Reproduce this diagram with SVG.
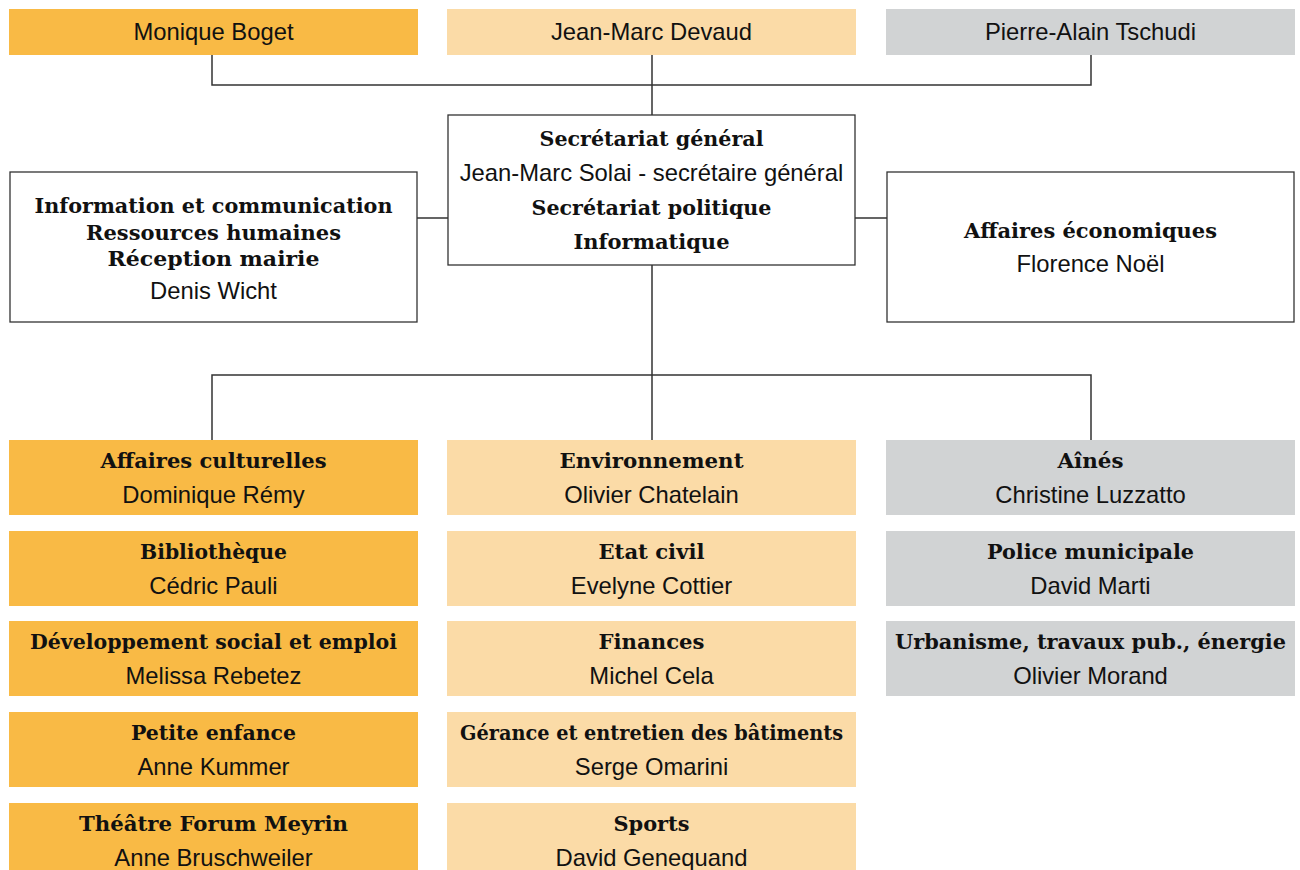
<svg xmlns="http://www.w3.org/2000/svg" width="1300" height="870" viewBox="0 0 1300 870">
<style>
.o{fill:#F9BA45}
.p{fill:#FBDBA7}
.g{fill:#D1D3D4}
.w{fill:#fff;stroke:#333;stroke-width:1.3}
.b{font-family:"DejaVu Serif",serif;font-weight:bold;font-size:20.5px;fill:#111;text-anchor:middle}
.n{font-family:"Liberation Sans",Arial,sans-serif;font-size:23.8px;fill:#111;text-anchor:middle}
.c{fill:none;stroke:#333;stroke-width:1.5}
</style>
<rect width="1300" height="870" fill="#fff"/>
<g id="connectors" class="c">
<path d="M212 55V85H1091V55M652 55V115"/>
<path d="M417 218H448M855 218H887"/>
<path d="M652 265V375M212 440V375H1091V440M652 375V440"/>
</g>
<g id="monique-boget"><rect class="o" x="9" y="9" width="409" height="46"/><text class="n" x="213.5" y="40">Monique Boget</text></g>
<g id="jean-marc-devaud"><rect class="p" x="447" y="9" width="409" height="46"/><text class="n" x="651.5" y="40">Jean-Marc Devaud</text></g>
<g id="pierre-alain-tschudi"><rect class="g" x="886" y="9" width="409" height="46"/><text class="n" x="1090.5" y="40">Pierre-Alain Tschudi</text></g>
<g id="secretariat"><rect class="w" x="448" y="115" width="407" height="150"/>
<text class="b" x="651.5" y="146" textLength="224" lengthAdjust="spacingAndGlyphs">Secrétariat général</text>
<text class="n" x="651.5" y="181">Jean-Marc Solai - secrétaire général</text>
<text class="b" x="651.5" y="215" textLength="240" lengthAdjust="spacingAndGlyphs">Secrétariat politique</text>
<text class="b" x="651.5" y="249" textLength="156" lengthAdjust="spacingAndGlyphs">Informatique</text></g>
<g id="information"><rect class="w" x="10" y="172" width="407" height="150"/>
<text class="b" x="213.5" y="213" textLength="358" lengthAdjust="spacingAndGlyphs">Information et communication</text>
<text class="b" x="213.5" y="240" textLength="255" lengthAdjust="spacingAndGlyphs">Ressources humaines</text>
<text class="b" x="213.5" y="266" textLength="212" lengthAdjust="spacingAndGlyphs">Réception mairie</text>
<text class="n" x="213.5" y="299">Denis Wicht</text></g>
<g id="affaires-economiques"><rect class="w" x="887" y="172" width="407" height="150"/>
<text class="b" x="1090.5" y="238" textLength="253" lengthAdjust="spacingAndGlyphs">Affaires économiques</text>
<text class="n" x="1090.5" y="272">Florence Noël</text></g>
<g id="affaires-culturelles"><rect class="o" x="9" y="440" width="409" height="75"/><text class="b" x="213.5" y="468" textLength="226" lengthAdjust="spacingAndGlyphs">Affaires culturelles</text><text class="n" x="213.5" y="503">Dominique Rémy</text></g>
<g id="bibliotheque"><rect class="o" x="9" y="531" width="409" height="75"/><text class="b" x="213.5" y="559" textLength="147" lengthAdjust="spacingAndGlyphs">Bibliothèque</text><text class="n" x="213.5" y="594">Cédric Pauli</text></g>
<g id="developpement-social"><rect class="o" x="9" y="621" width="409" height="75"/><text class="b" x="213.5" y="649" textLength="367" lengthAdjust="spacingAndGlyphs">Développement social et emploi</text><text class="n" x="213.5" y="684">Melissa Rebetez</text></g>
<g id="petite-enfance"><rect class="o" x="9" y="712" width="409" height="75"/><text class="b" x="213.5" y="740" textLength="165" lengthAdjust="spacingAndGlyphs">Petite enfance</text><text class="n" x="213.5" y="775">Anne Kummer</text></g>
<g id="theatre-forum-meyrin"><rect class="o" x="9" y="803" width="409" height="75"/><text class="b" x="213.5" y="831" textLength="269" lengthAdjust="spacingAndGlyphs">Théâtre Forum Meyrin</text><text class="n" x="213.5" y="866">Anne Bruschweiler</text></g>
<g id="environnement"><rect class="p" x="447" y="440" width="409" height="75"/><text class="b" x="651.5" y="468" textLength="184" lengthAdjust="spacingAndGlyphs">Environnement</text><text class="n" x="651.5" y="503">Olivier Chatelain</text></g>
<g id="etat-civil"><rect class="p" x="447" y="531" width="409" height="75"/><text class="b" x="651.5" y="559" textLength="106" lengthAdjust="spacingAndGlyphs">Etat civil</text><text class="n" x="651.5" y="594">Evelyne Cottier</text></g>
<g id="finances"><rect class="p" x="447" y="621" width="409" height="75"/><text class="b" x="651.5" y="649" textLength="106" lengthAdjust="spacingAndGlyphs">Finances</text><text class="n" x="651.5" y="684">Michel Cela</text></g>
<g id="gerance"><rect class="p" x="447" y="712" width="409" height="75"/><text class="b" x="651.5" y="740" textLength="383" lengthAdjust="spacingAndGlyphs">Gérance et entretien des bâtiments</text><text class="n" x="651.5" y="775">Serge Omarini</text></g>
<g id="sports"><rect class="p" x="447" y="803" width="409" height="75"/><text class="b" x="651.5" y="831" textLength="76" lengthAdjust="spacingAndGlyphs">Sports</text><text class="n" x="651.5" y="866">David Genequand</text></g>
<g id="aines"><rect class="g" x="886" y="440" width="409" height="75"/><text class="b" x="1090.5" y="468" textLength="66" lengthAdjust="spacingAndGlyphs">Aînés</text><text class="n" x="1090.5" y="503">Christine Luzzatto</text></g>
<g id="police-municipale"><rect class="g" x="886" y="531" width="409" height="75"/><text class="b" x="1090.5" y="559" textLength="207" lengthAdjust="spacingAndGlyphs">Police municipale</text><text class="n" x="1090.5" y="594">David Marti</text></g>
<g id="urbanisme"><rect class="g" x="886" y="621" width="409" height="75"/><text class="b" x="1090.5" y="649" textLength="391" lengthAdjust="spacingAndGlyphs">Urbanisme, travaux pub., énergie</text><text class="n" x="1090.5" y="684">Olivier Morand</text></g>
</svg>
